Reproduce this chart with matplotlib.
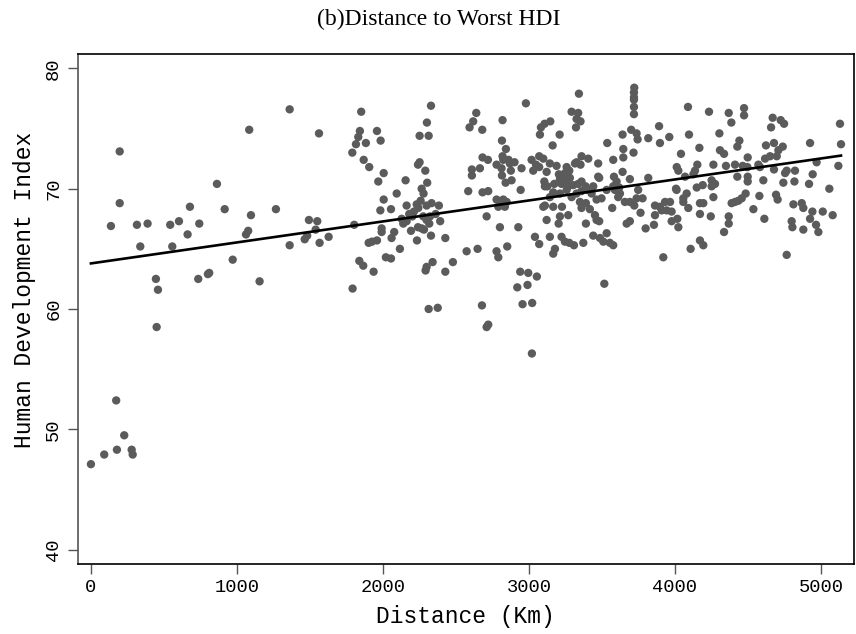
import matplotlib
matplotlib.use("Agg")
import matplotlib.pyplot as plt
import numpy as np

# Values: distance to worst HDI (km) and HDI
# west / low outliers
dist_1 = [197, 1084, 863, 197, 678, 916, 1096, 1267, 137, 315, 388, 543, 603, 742, 662, 1062, 1077, 338, 557, 971,
          445, 459, 450, 735, 801, 810, 1155, 173, 228, 91, 178, 279, 286, 0]
hdi_1 = [73.1, 74.9, 70.4, 68.8, 68.5, 68.3, 67.8, 68.3, 66.9, 67.0, 67.1, 67.0, 67.3, 67.1, 66.2, 66.2, 66.5, 65.2, 65.2, 64.1,
         62.5, 61.6, 58.5, 62.5, 62.9, 63.0, 62.3, 52.4, 49.5, 47.9, 48.3, 48.3, 47.9, 47.1]

# 1300 - 2500 km
dist_2 = [1361, 1562, 1851, 2329, 2301, 2251, 2313, 1842, 1831, 1815, 1883, 1959, 1984, 1790, 1868, 1906, 2005, 1968, 2155, 2240, 2251, 2290, 2303,
          2265, 2278, 2258, 2231, 2242, 2005, 2094, 2162, 2055, 1982,
          2299, 2333, 2383, 2361, 2180, 2212, 2201, 2128, 2162, 2139,
          2276, 2299, 2322, 2317, 2392, 2240, 2265, 2281, 2192, 2329, 2427, 2233,
          1991, 1991, 2077, 2059, 2116, 1959, 1925, 1902, 1803,
          1493, 1550, 1539, 1481, 1464, 1566, 1628, 1361,
          1838, 1865, 1936, 1792, 2020, 2055, 2340, 2299, 2292, 2479, 2427, 2313, 2375]
hdi_2 = [76.6, 74.6, 76.4, 76.9, 75.5, 74.4, 74.4, 74.8, 74.3, 73.7, 73.8, 74.8, 74.0, 73.0, 72.4, 71.8, 71.3, 70.6, 70.7, 72.0, 72.2, 71.5, 70.5,
         70.0, 69.6, 69.0, 68.7, 68.4, 69.1, 69.6, 68.6, 68.3, 68.2,
         68.6, 68.8, 68.6, 67.9, 67.9, 68.1, 67.7, 67.5, 67.3, 67.1,
         67.7, 67.4, 67.7, 67.1, 67.3, 66.8, 66.7, 66.6, 66.5, 66.1, 65.9, 65.7,
         66.7, 66.4, 66.4, 65.9, 65.0, 65.7, 65.6, 65.5, 67.0,
         67.4, 67.3, 66.6, 66.1, 65.8, 65.5, 66.0, 65.3,
         64.0, 63.6, 63.1, 61.7, 64.3, 64.2, 63.9, 63.5, 63.2, 63.9, 63.1, 60.0, 60.1]

# 2500 - 3900 km
dist_3 = [3721, 3719, 3719, 3719, 3342, 2979, 3719, 3719,
          3292, 3337, 3326, 3353, 3322, 2639, 2618, 2593, 2819, 2680,
          3146, 3107, 3082, 3075, 3210, 3162, 2815, 2842,
          3700, 3737, 3744, 3641, 3817, 3536, 3646, 3716, 3646,
          2682, 2719, 2609, 2609, 2664, 2778,
          2819, 2824, 2860, 2869, 2901, 2812, 2815, 2876, 2881, 2840, 2949,
          3018, 3048, 3029, 3070, 3098, 3070, 3121, 3143, 3189,
          3212, 3205, 3173, 3125, 3105, 3109,
          3258, 3276, 3315, 3326, 3360, 3406, 3353,
          3247, 3235, 3258, 3269, 3223, 3280, 3303, 3337, 3360, 3388,
          3474, 3577, 3474, 3481, 3582, 3600, 3641, 3691, 3817,
          2584, 2682, 2721, 2943, 2778, 2801, 2824, 2847, 2790, 2835,
          2710, 2801, 2927, 2573, 2648, 2778, 2790, 2851,
          3143, 3166, 3212, 3258, 3292, 3326,
          3109, 3098, 3166, 3226, 3212, 3269, 3203, 3121,
          3360, 3395, 3429, 3440, 3349, 3360, 3390, 3417, 3390,
          3452, 3463, 3481, 3463, 3497,
          3532, 3577, 3589, 3611, 3623, 3618,
          3657, 3691, 3737, 3748, 3778, 3721, 3570, 3764,
          3669, 3691, 3799, 3856, 3863, 3863,
          3041, 3070, 3143, 3223, 3246, 3276, 3308, 3372, 3178, 3166,
          3440, 3486, 3509, 3532, 3554, 3577,
          2940, 2995, 3054, 2920, 2990, 2678, 2956, 3022, 2710, 2721, 3020, 3516]
hdi_3 = [78.4, 78.0, 77.6, 77.4, 77.9, 77.1, 76.8, 76.2,
         76.4, 76.3, 75.8, 75.6, 75.1, 76.3, 75.6, 75.1, 75.7, 74.9,
         75.6, 75.4, 75.1, 74.5, 74.5, 73.6, 74.0, 73.3,
         74.9, 74.6, 74.1, 74.5, 74.2, 73.8, 73.3, 73.0, 72.6,
         72.6, 72.4, 71.6, 71.1, 71.7, 72.0,
         72.7, 72.4, 72.4, 72.1, 72.2, 71.7, 71.1, 71.5, 70.7, 70.5, 71.7,
         72.4, 72.0, 71.5, 72.7, 72.5, 71.8, 71.4, 72.1, 71.9,
         70.8, 71.2, 70.4, 70.2, 70.6, 70.2,
         71.8, 71.5, 72.1, 72.2, 72.7, 72.5, 72.0,
         71.3, 70.7, 70.6, 70.2, 70.4, 70.9, 70.3, 70.4, 70.6, 70.2,
         72.1, 72.4, 71.0, 70.9, 71.0, 70.6, 71.4, 70.8, 70.9,
         69.8, 69.7, 69.8, 69.9, 69.1, 68.9, 69.1, 68.9, 68.5, 68.5,
         67.7, 66.8, 66.8, 64.8, 65.0, 64.8, 64.3, 65.2,
         69.3, 69.7, 69.6, 69.9, 69.3, 69.6,
         68.6, 68.5, 68.5, 68.5, 67.7, 67.8, 67.1, 67.4,
         69.8, 69.9, 69.6, 70.2, 68.9, 68.4, 68.8, 68.3, 67.1,
         67.8, 67.4, 67.3, 69.1, 69.2,
         69.9, 70.2, 69.9, 69.3, 69.6, 70.1,
         68.9, 68.9, 69.2, 69.9, 69.2, 68.6, 68.4, 68.0,
         67.1, 67.3, 66.7, 67.0, 68.6, 67.8,
         66.0, 65.4, 66.0, 66.0, 65.6, 65.5, 65.3, 65.5, 65.0, 64.6,
         66.1, 65.9, 65.6, 66.3, 65.5, 65.3,
         63.1, 63.0, 62.7, 61.8, 62.0, 60.3, 60.4, 60.5, 58.5, 58.7, 56.3, 62.1]

# east of 3900 km
dist_4 = [4089, 4233, 4368, 4386, 4473, 4473, 3891, 3897, 3961, 4096, 4304, 4167, 4041,
          4441, 4427, 4308, 4336, 4498, 4669, 4658, 4724, 4747,
          4623, 4678, 4708, 4738, 4617, 4651, 4697, 4925, 5130, 5137, 4970, 5119,
          4012, 4023, 4137, 4153, 4126, 4263, 4349, 4411, 4464, 4496, 4571, 4582,
          4069, 4251, 4251, 4274, 4263, 4149, 4190, 4427, 4498, 4498, 4605,
          4678, 4765, 4822, 4754, 4742, 4818, 4943, 4918, 5057, 4007, 4011,
          3897, 3932, 3966, 3943, 3977, 3909,
          4057, 4057, 4080, 4091, 4171, 4194, 4171, 4245, 3977, 4016, 4023,
          4388, 4411, 4434, 4457, 4484, 4537, 4578, 4692, 4703, 4612, 4368, 4368, 4336,
          4811, 4868, 4879, 4941, 4925, 5012, 5080, 4799, 4804, 4879, 4966, 4982,
          4171, 4194, 4107, 3920, 4765]
hdi_4 = [76.8, 76.4, 76.3, 75.5, 76.7, 76.1, 75.2, 73.8, 74.3, 74.5, 74.6, 73.4, 72.9,
         74.0, 73.5, 73.2, 72.9, 72.6, 75.9, 75.1, 75.7, 75.4,
         73.6, 73.8, 73.2, 73.5, 72.5, 72.7, 72.7, 73.8, 75.4, 73.7, 72.2, 71.9,
         71.8, 71.5, 71.5, 72.0, 71.2, 72.0, 71.9, 72.0, 71.9, 71.8, 72.0, 71.8,
         71.0, 70.7, 70.2, 70.4, 69.3, 70.1, 70.3, 71.0, 71.0, 70.6, 70.7,
         71.6, 71.5, 71.5, 71.3, 70.5, 70.6, 71.2, 70.4, 70.0, 70.0, 69.9,
         68.5, 68.9, 68.9, 68.2, 68.1, 68.2,
         69.2, 68.9, 69.6, 68.4, 68.8, 68.8, 67.9, 67.7, 67.3, 67.5, 66.8,
         68.8, 68.9, 69.0, 69.2, 69.6, 68.3, 69.4, 69.5, 69.1, 67.5, 67.7, 67.1, 66.4,
         68.7, 68.8, 68.4, 68.1, 67.5, 68.1, 67.8, 67.3, 66.8, 66.6, 67.0, 66.4,
         65.7, 65.3, 65.0, 64.3, 64.5]

# linear fit
fit_intercept = 63.79
fit_slope = 0.001745

x_ticks = [0, 1000, 2000, 3000, 4000, 5000]
y_ticks = [40, 50, 60, 70, 80]

dist = np.array(dist_1 + dist_2 + dist_3 + dist_4, dtype=float)
hdi = np.array(hdi_1 + hdi_2 + hdi_3 + hdi_4, dtype=float)

MONO = "Liberation Mono"

fig = plt.figure(figsize=(8.56, 6.34), dpi=100)
ax = fig.add_axes([77.5 / 856, 1 - 564 / 634, (854 - 77.5) / 856, (564 - 54) / 634])

ax.scatter(dist, hdi, s=36, color="#5b5b5b", edgecolors="none", zorder=2)
xs = np.array([dist.min(), dist.max()])
ax.plot(xs, fit_intercept + fit_slope * xs, color="black", lw=1.9, zorder=3)

ax.set_xlim(-92, 5226)
ax.set_ylim(38.8, 81.2)
ax.set_xticks(x_ticks)
ax.set_yticks(y_ticks)
ax.set_xticklabels([str(t) for t in x_ticks], fontfamily=MONO, fontsize=13.5)
ax.set_yticklabels([str(t) for t in y_ticks], fontfamily=MONO, fontsize=13.5,
                   rotation=90, va="center")
ax.tick_params(direction="out", length=7, width=1, color="#555555", pad=4)
ax.set_xlabel("Distance (Km)", fontfamily=MONO, fontsize=16.5, labelpad=6)
ax.set_ylabel("Human Development Index", fontfamily=MONO, fontsize=16.5)
ax.yaxis.set_label_coords(-0.053, 0.537)
for sp in ax.spines.values():
    sp.set_linewidth(1.2)
ax.spines["left"].set_color("#555555")

fig.text(439 / 856, 1 - 19 / 634, "(b)Distance to Worst HDI", fontfamily="Liberation Serif",
         fontsize=17, ha="center", va="center")

fig.savefig("out.png", dpi=100)
